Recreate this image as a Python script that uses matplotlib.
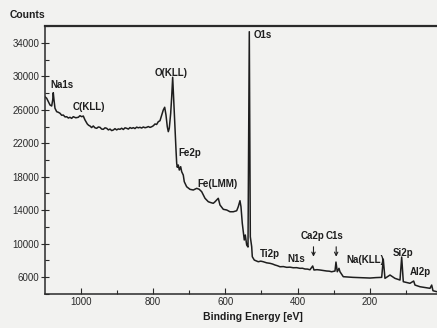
import matplotlib
matplotlib.use("Agg")
import matplotlib.pyplot as plt
from matplotlib.ticker import MultipleLocator, FixedLocator

plt.rcParams['font.family'] = ['Liberation Sans', 'DejaVu Sans']

# Binding energy (eV) and counts
energy = [1098.7, 1094.0, 1089.6, 1084.9, 1080.2, 1077.4, 1075.8, 1073.8, 1071.1, 1066.4,
          1061.5, 1057.2, 1052.6, 1048.1, 1043.2, 1038.7, 1034.1, 1029.6, 1025.0, 1020.5,
          1013.5, 1006.6, 1002.0, 997.2, 992.8, 988.1, 985.0, 981.7, 978.0, 974.3,
          969.8, 965.2, 960.5, 955.8, 951.2, 946.6, 942.0, 937.5, 932.8, 928.1,
          923.5, 918.9, 914.3, 909.8, 905.2, 900.5, 895.9, 891.3, 886.7, 882.0,
          877.4, 872.8, 868.2, 863.6, 859.0, 854.5, 849.9, 845.2, 840.6, 836.0,
          831.4, 826.8, 822.1, 817.5, 812.9, 808.3, 803.6, 799.0, 794.5, 790.0,
          785.4, 780.7, 776.0, 771.6, 767.7, 764.1, 760.5, 757.7, 755.0, 751.1,
          748.3, 745.6, 742.8, 739.2, 736.4, 734.5, 732.9, 730.1, 727.3, 723.5,
          720.7, 716.3, 713.5, 706.9, 697.7, 688.6, 679.2, 672.3, 665.4, 656.2,
          647.1, 640.0, 633.3, 628.6, 623.9, 619.5, 614.8, 605.6, 596.2, 587.1,
          578.0, 568.6, 564.2, 559.5, 556.7, 553.1, 547.6, 544.8, 540.9, 537.3,
          533.7, 530.9, 527.1, 525.4, 519.9, 508.9, 502.0, 495.0, 485.8, 476.5,
          469.6, 462.7, 455.7, 448.8, 439.5, 430.3, 421.2, 412.1, 402.8, 393.5,
          386.6, 379.7, 372.8, 365.9, 358.4, 354.8, 346.5, 338.2, 329.0, 319.7,
          312.8, 305.9, 296.7, 294.0, 290.4, 285.7, 282.9, 273.8, 260.4, 247.0,
          223.4, 199.9, 183.8, 167.6, 163.2, 158.5, 144.6, 130.8, 116.9, 112.3,
          107.8, 98.6, 89.3, 79.1, 75.5, 61.7, 47.9, 34.0, 29.3, 25.7,
          14.6]
counts = [27570, 27380, 26980, 26580, 26460, 27180, 28050, 27180, 26190, 25780,
          25700, 25590, 25350, 25380, 25150, 25180, 25020, 25110, 24980, 25180,
          25050, 25110, 25300, 25180, 25260, 24790, 24560, 24310, 24150, 24070,
          23880, 24070, 23850, 23790, 23950, 23910, 23700, 23670, 23850, 23790,
          23600, 23700, 23520, 23590, 23750, 23600, 23720, 23670, 23800, 23650,
          23850, 23790, 23700, 23880, 23780, 23870, 23760, 23930, 23850, 23910,
          23820, 23950, 23860, 23910, 24000, 23900, 23980, 24100, 24310, 24250,
          24580, 24700, 25380, 25980, 26310, 25380, 23980, 23390, 23790, 25590,
          27570, 29900, 27180, 23980, 21200, 19600, 19130, 19400, 18800, 19200,
          18600, 18200, 17400, 16800, 16490, 16410, 16610, 16500, 16210, 15420,
          15010, 14900, 14820, 15000, 15210, 15420, 14620, 14100, 14020, 13810,
          13810, 13930, 14410, 15130, 14410, 12430, 10430, 11030, 9830, 9590,
          35350, 10820, 9630, 8430, 8030, 7830, 7900, 7830, 7700, 7640,
          7560, 7440, 7350, 7230, 7250, 7160, 7180, 7110, 7120, 7040,
          7050, 6960, 6950, 6870, 7320, 6840, 6880, 6840, 6780, 6720,
          6700, 6630, 6720, 7790, 6630, 7040, 6630, 6040, 6000, 5960,
          5920, 5880, 5930, 5960, 8150, 5840, 6240, 5840, 5640, 8390,
          5440, 5350, 5250, 5520, 5040, 4840, 4750, 4650, 5040, 4360,
          4240]

x_ticks = [1000, 800, 600, 400, 200]
x_ticklabels = ['1000', '800', '600', '400', '200']
y_ticks = [6000, 10000, 14000, 18000, 22000, 26000, 30000, 34000]

peak_labels = ['Na1s', 'C(KLL)', 'O(KLL)', 'Fe2p', 'Fe(LMM)', 'O1s', 'Ti2p', 'N1s',
               'Na(KLL)', 'Si2p', 'Al2p']

W, H = 437, 328
bg = '#f2f2f0'
ink = '#1e1e1e'
fig = plt.figure(figsize=(W / 100, H / 100), dpi=100, facecolor=bg)
ax = fig.add_axes([45 / W, 1 - 294 / H, (437 - 45) / W, (294 - 26) / H], facecolor=bg)

ax.plot(energy, counts, color=ink, lw=1.1)

ax.set_xlim(1098.7, 14.6)
ax.set_ylim(3970, 36030)

ax.xaxis.set_major_locator(FixedLocator(x_ticks))
ax.set_xticklabels(x_ticklabels)
ax.xaxis.set_minor_locator(MultipleLocator(100))
ax.yaxis.set_major_locator(FixedLocator(y_ticks))
ax.yaxis.set_minor_locator(MultipleLocator(2000))
ax.set_yticklabels([str(v) for v in y_ticks])

ax.tick_params(axis='x', which='major', direction='in', length=4, width=0.8,
               pad=2, labelsize=7, colors='#2a2a2a')
ax.tick_params(axis='x', which='minor', direction='in', length=3, width=0.8,
               colors='#2a2a2a')
ax.tick_params(axis='y', which='major', direction='inout', length=6, width=0.8,
               pad=1, labelsize=7, colors='#2a2a2a')
ax.tick_params(axis='y', which='minor', direction='in', length=3, width=0.8,
               colors='#2a2a2a')

for s in ['left', 'bottom', 'top']:
    ax.spines[s].set_color('#2a2a2a')
    ax.spines[s].set_linewidth(1.1)
ax.spines['top'].set_linewidth(1.6)
ax.spines['right'].set_visible(False)

fs = 7
tk = dict(fontsize=fs, fontweight='bold', color='#1e1e1e', va='center', ha='left')
ax.text(1084.9, 28975, peak_labels[0], **tk)
ax.text(1021.3, 26342, peak_labels[1], **tk)
ax.text(794.5, 30410, peak_labels[2], **tk)
ax.text(730.9, 20837, peak_labels[3], **tk)
ax.text(678.4, 17128, peak_labels[4], **tk)
ax.text(520.7, 34957, peak_labels[5], **tk)
ax.text(504.1, 8750, peak_labels[6], **tk)
ax.text(428.0, 8100, peak_labels[7], **tk)
ax.text(266.3, 8094, peak_labels[8], **tk)
ax.text(137.2, 8871, peak_labels[9], **tk)
ax.text(91.3, 6658, peak_labels[10], **tk)

# Ca2p and C1s with arrows
ax.text(358.0, 10950, 'Ca2p', fontsize=fs, fontweight='bold', color='#1e1e1e',
        ha='center', va='center')
ax.text(299.0, 10950, 'C1s', fontsize=fs, fontweight='bold', color='#1e1e1e',
        ha='center', va='center')
arrow = dict(arrowstyle='->', lw=0.8, color='#1e1e1e', mutation_scale=6)
ax.annotate('', xy=(356.2, 8100), xytext=(356.2, 9950), arrowprops=arrow)
ax.annotate('', xy=(293.4, 8100), xytext=(293.4, 9950), arrowprops=arrow)

fig.text(10 / W, 1 - 15 / H, 'Counts', fontsize=7.5, fontweight='bold',
         color='#1e1e1e', ha='left', va='center')
fig.text(253 / W, 1 - 316.5 / H, 'Binding Energy [eV]', fontsize=7.5,
         fontweight='bold', color='#1e1e1e', ha='center', va='center')

fig.savefig('out.png', dpi=100, facecolor=bg)
